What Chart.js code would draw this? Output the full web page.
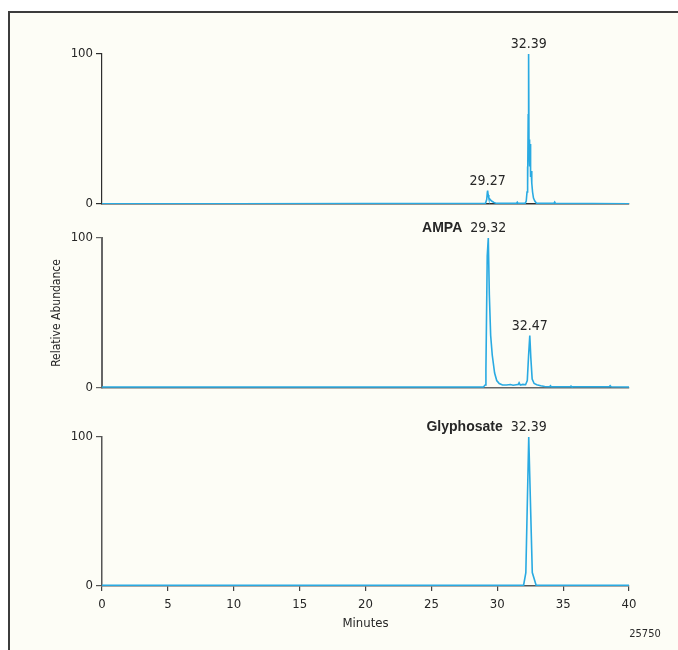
<!DOCTYPE html>
<html>
<head>
<meta charset="utf-8">
<script src="https://cdn.jsdelivr.net/npm/chart.js@4.4.1/dist/chart.umd.min.js"></script>
<style>
  body { margin: 0; background: #fff; }
  #fig { position: relative; width: 678px; height: 650px; background: #fff; overflow: hidden; }
  #frame { position: absolute; left: 8px; top: 11px; right: -4px; bottom: -4px;
           background: #fdfdf6; border-left: 2px solid #3c3c3c; border-top: 2px solid #3c3c3c; }
  canvas { position: absolute; left: 0; }
  #code { position: absolute; left: 620px; top: 627px; width: 50px; text-align: center;
          font: 11px "DejaVu Sans Condensed", sans-serif; color: #2a2a2a; }
</style>
</head>
<body>
<div id="fig">
  <div id="frame"></div>
  <canvas id="c1" width="678" height="196" style="top:20px"></canvas>
  <canvas id="c2" width="678" height="190" style="top:210px"></canvas>
  <canvas id="c3" width="678" height="250" style="top:400px"></canvas>
  <div id="code">25750</div>
</div>
<script>
// --- data ---
const xTickValues = [0, 5, 10, 15, 20, 25, 30, 35, 40];
const yTickValues = [0, 100];

// top trace (no compound name)
const topTime = [0, 10, 20, 29.1, 29.2, 29.25, 29.27, 29.31, 29.36, 29.42, 29.5, 29.6, 29.75, 29.95,
  31.45, 31.52, 31.58, 32.12, 32.2, 32.26, 32.29, 32.32, 32.35, 32.37, 32.39, 32.41, 32.44, 32.47, 32.5,
  32.53, 32.57, 32.62, 32.68, 32.75, 32.85, 32.98, 34.3, 34.36, 34.42, 40];
const topValue = [0.2, 0.2, 0.3, 0.3, 3, 8, 9, 6, 4, 3.5, 2.5, 1.8, 1, 0.4,
  0.4, 1.2, 0.4, 0.4, 2, 8, 25, 12, 60, 30, 100, 38, 43, 25, 40,
  18, 22, 14, 8, 4, 2, 0.5, 0.4, 1.3, 0.4, 0.2];
const topPeaks = [[32.39, 100], [29.27, 9]];

// AMPA
const ampaTime = [0, 10, 20, 28.95, 29.08, 29.14, 29.24, 29.32, 29.4, 29.5, 29.62, 29.8, 29.96, 30.15,
  30.4, 30.7, 31.0, 31.2, 31.45, 31.6, 31.66, 31.75, 31.95, 32.15, 32.28, 32.38, 32.47, 32.55, 32.65,
  32.8, 33.0, 33.3, 33.6, 33.98, 34.04, 34.1, 35.55, 35.6, 35.66, 38.5, 38.57, 38.64, 40];
const ampaValue = [0.7, 0.7, 0.7, 0.7, 2, 12, 88, 100, 62, 35, 22, 10, 5, 3,
  2, 2, 2.3, 1.8, 2.2, 2.4, 3.5, 2, 2.4, 2.2, 5, 22, 35, 20, 6,
  3, 2.2, 1.5, 1, 0.8, 1.5, 0.8, 0.8, 1.3, 0.8, 0.8, 1.5, 0.8, 0.7];
const ampaPeaks = [[29.32, 100], [32.47, 35]];

// Glyphosate
const glyTime = [0, 10, 20, 30, 32.0, 32.17, 32.39, 32.66, 32.95, 40];
const glyValue = [0.5, 0.5, 0.5, 0.5, 0.5, 9, 100, 9, 0.5, 0.5];
const glyPeaks = [[32.39, 100]];

const compoundNames = ['', 'AMPA', 'Glyphosate'];

const TRACE = 'rgb(41,170,226)';
const TEXT = '#262626';
const NARROW = '"DejaVu Sans Condensed", sans-serif';

// draws retention time above each peak, compound name before the first one
const peakLabels = {
  id: 'peakLabels',
  afterDatasetsDraw(chart, args, opts) {
    const { ctx, scales: { x, y } } = chart;
    ctx.save();
    ctx.fillStyle = TEXT;
    ctx.textBaseline = 'alphabetic';
    opts.peaks.forEach((p, i) => {
      const px = x.getPixelForValue(p[0]);
      const py = y.getPixelForValue(p[1]) - 6;
      const text = p[0].toFixed(2);
      ctx.font = '14px ' + NARROW;
      ctx.textAlign = 'center';
      ctx.fillText(text, px, py);
      if (i === 0 && opts.name) {
        const w = ctx.measureText(text).width;
        ctx.font = 'bold 14px "Liberation Sans", Arial, sans-serif';
        ctx.textAlign = 'right';
        ctx.fillText(opts.name, px - w / 2 - 8, py);
      }
    });
    ctx.restore();
  }
};

function makePanel(id, times, values, peaks, name, opts) {
  const points = times.map((t, i) => ({ x: t, y: values[i] }));
  return new Chart(document.getElementById(id), {
    type: 'line',
    data: {
      datasets: [{
        data: points,
        borderColor: TRACE,
        borderWidth: 1.6,
        pointRadius: 0,
        tension: 0,
        fill: false
      }]
    },
    options: {
      responsive: false,
      animation: false,
      events: [],
      layout: { padding: { left: 45, right: 49, top: opts.padTop, bottom: opts.padBottom } },
      plugins: {
        legend: { display: false },
        tooltip: { enabled: false },
        peakLabels: { peaks: peaks, name: name }
      },
      scales: {
        x: {
          type: 'linear',
          min: 0,
          max: 40,
          afterBuildTicks: s => { s.ticks = xTickValues.map(v => ({ value: v })); },
          afterFit: s => { s.height = opts.xHeight; },
          border: { display: true, color: opts.axisColor, width: 1.5 },
          grid: { display: opts.showX, drawOnChartArea: false, drawTicks: opts.showX, tickLength: 5, color: '#444', lineWidth: 1.2 },
          ticks: { display: opts.showX, color: TEXT, padding: 6, maxRotation: 0, font: { family: NARROW, size: 13 } },
          title: { display: opts.showX, text: 'Minutes', color: TEXT, padding: { top: 2, bottom: 5 }, font: { family: NARROW, size: 13 } }
        },
        y: {
          min: 0,
          max: 100,
          afterBuildTicks: s => { s.ticks = yTickValues.map(v => ({ value: v })); },
          afterFit: s => { s.width = 57; },
          border: { display: true, color: opts.axisColor, width: opts.axisWidth },
          grid: { drawOnChartArea: false, tickLength: 6, color: opts.axisColor, lineWidth: 1.2 },
          ticks: { color: TEXT, padding: 3, font: { family: NARROW, size: 13 } },
          title: { display: opts.showTitle, text: 'Relative Abundance', color: TEXT, padding: { top: 5, bottom: 4 }, font: { family: NARROW, size: 12 } }
        }
      }
    },
    plugins: [peakLabels]
  });
}

makePanel('c1', topTime, topValue, topPeaks, compoundNames[0],
  { padTop: 34, padBottom: 12, xHeight: 0, showX: false, showTitle: false, axisColor: '#2e2e2e', axisWidth: 1.2 });
makePanel('c2', ampaTime, ampaValue, ampaPeaks, compoundNames[1],
  { padTop: 28, padBottom: 12, xHeight: 0, showX: false, showTitle: true, axisColor: '#666', axisWidth: 2 });
makePanel('c3', glyTime, glyValue, glyPeaks, compoundNames[2],
  { padTop: 37, padBottom: 14, xHeight: 50, showX: true, showTitle: false, axisColor: '#555', axisWidth: 1.5 });
</script>
</body>
</html>
